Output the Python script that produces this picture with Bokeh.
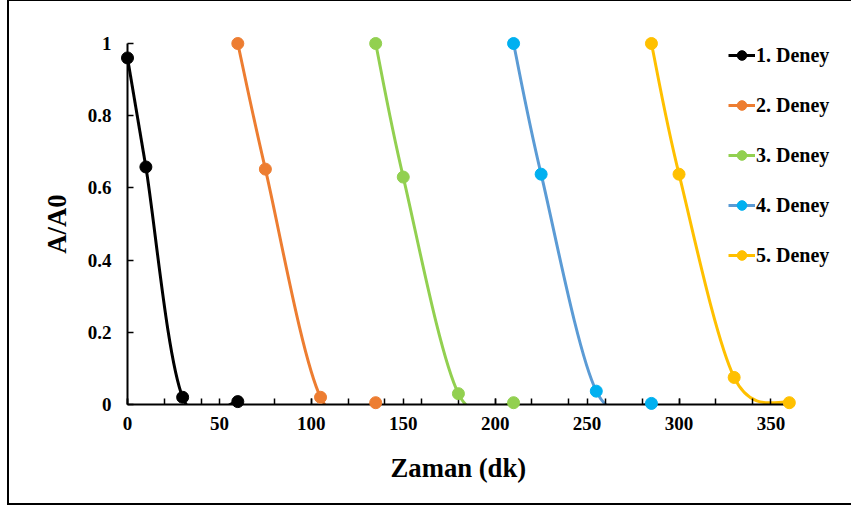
from bokeh.plotting import figure
from bokeh.models import Range1d, FixedTicker, Legend, LegendItem, ColumnDataSource, Title
from bokeh.embed import file_html
from bokeh.resources import INLINE

# ---- data ----
series_names = ["1. Deney", "2. Deney", "3. Deney", "4. Deney", "5. Deney"]
x1 = [0, 10, 30, 60]
y1 = [0.96, 0.658, 0.02, 0.008]
x2 = [60, 75, 105, 135]
y2 = [1.0, 0.652, 0.02, 0.005]
x3 = [135, 150, 180, 210]
y3 = [1.0, 0.63, 0.03, 0.005]
x4 = [210, 225, 255, 285]
y4 = [1.0, 0.638, 0.037, 0.003]
x5 = [285, 300, 330, 360]
y5 = [1.0, 0.638, 0.075, 0.005]

x_axis_max = 360
x_ticks = [0, 50, 100, 150, 200, 250, 300, 350]
x_minor_ticks = list(range(0, 361, 20))
y_ticks = [0, 0.2, 0.4, 0.6, 0.8, 1]
y_tick_labels = ["0", "0.2", "0.4", "0.6", "0.8", "1"]
x_title = "Zaman (dk)"
y_title = "A/A0"

line_colors = ["#000000", "#ED7D31", "#92D050", "#5B9BD5", "#FFC000"]
marker_colors = ["#000000", "#ED7D31", "#92D050", "#00B0F0", "#FFC000"]

FONT = "Liberation Serif"

# layout (pixels)
CANVAS_W = 842
LEFT = 118
AXIS_PX = 660  # pixel length of the 0..360 axis
X_END = x_axis_max * (CANVAS_W - LEFT) / AXIS_PX


def smooth_segments(xs, ys):
    """Bezier control points for an Excel-like smoothed line through the data."""
    n = len(xs)
    d = dict(x0=[], y0=[], x1=[], y1=[], cx0=[], cy0=[], cx1=[], cy1=[])
    for i in range(n - 1):
        xp, yp = (xs[i - 1], ys[i - 1]) if i > 0 else (xs[i], ys[i])
        xn, yn = (xs[i + 2], ys[i + 2]) if i + 2 < n else (xs[i + 1], ys[i + 1])
        d["x0"].append(xs[i]); d["y0"].append(ys[i])
        d["x1"].append(xs[i + 1]); d["y1"].append(ys[i + 1])
        d["cx0"].append(xs[i] + (xs[i + 1] - xp) / 6.0)
        d["cy0"].append(ys[i] + (ys[i + 1] - yp) / 6.0)
        d["cx1"].append(xs[i + 1] - (xn - xs[i]) / 6.0)
        d["cy1"].append(ys[i + 1] - (yn - ys[i]) / 6.0)
    return ColumnDataSource(d)


p = figure(width=CANVAS_W + 2, height=505, output_backend="svg", toolbar_location=None,
           x_range=Range1d(0, X_END), y_range=Range1d(0, 1),
           min_border_left=LEFT, min_border_right=0, min_border_top=42, min_border_bottom=102)
p.styles = {"margin-left": "7px", "border-left": "2px solid black",
            "border-top": "1px solid black", "border-bottom": "2px solid black"}
p.outline_line_color = None
p.grid.visible = False
p.background_fill_color = "white"
p.border_fill_color = "white"

items = []
all_x = [x1, x2, x3, x4, x5]
all_y = [y1, y2, y3, y4, y5]
for name, xs, ys, lc, mc in zip(series_names, all_x, all_y, line_colors, marker_colors):
    src = smooth_segments(xs, ys)
    bz = p.bezier(x0="x0", y0="y0", x1="x1", y1="y1", cx0="cx0", cy0="cy0", cx1="cx1", cy1="cy1",
                  source=src, line_color=lc, line_width=3)
    sc = p.scatter(x=xs, y=ys, size=12, fill_color=mc, line_color=mc, marker="circle", level="annotation")
    items.append(LegendItem(label=name, renderers=[bz, sc]))

legend = Legend(items=items, location=(601, 137), padding=0, margin=0, spacing=26,
                glyph_width=27, glyph_height=24, label_height=24, label_standoff=1,
                border_line_color=None, background_fill_alpha=0,
                label_text_font=FONT, label_text_font_style="bold", label_text_font_size="20px",
                label_text_color="black")
p.add_layout(legend)

# x axis
xa = p.xaxis[0]
xa.ticker = FixedTicker(ticks=x_ticks, minor_ticks=x_minor_ticks)
xa.bounds = (0, x_axis_max)
# y axis
ya = p.yaxis[0]
ya.ticker = FixedTicker(ticks=y_ticks)
ya.major_label_overrides = {t: l for t, l in zip(y_ticks, y_tick_labels)}
ya.axis_label = y_title

for ax in (xa, ya):
    ax.axis_line_color = "black"
    ax.axis_line_width = 2
    ax.major_tick_in = 6
    ax.major_tick_out = 0
    ax.minor_tick_in = 6
    ax.minor_tick_out = 0
    ax.major_tick_line_width = 1.5
    ax.minor_tick_line_width = 1.5
    ax.major_tick_line_color = "black"
    ax.minor_tick_line_color = "black"
    ax.major_label_text_font = FONT
    ax.major_label_text_font_style = "bold"
    ax.major_label_text_font_size = "19px"
    ax.major_label_text_color = "black"
    ax.axis_label_text_font = FONT
    ax.axis_label_text_font_style = "bold"
    ax.axis_label_text_font_size = "26.7px"
    ax.axis_label_text_color = "black"

ya.minor_tick_line_color = None
xa.major_label_standoff = 12
ya.major_label_standoff = 16
ya.axis_label_standoff = 13

# x-axis title, centred under the 0..360 axis (frame is wider to hold the legend)
xt = Title(text=x_title, align="left", offset=263, standoff=36,
           text_font=FONT, text_font_style="bold", text_font_size="26.7px", text_color="black")
p.add_layout(xt, "below")

open("out.html", "w").write(file_html(p, INLINE))
